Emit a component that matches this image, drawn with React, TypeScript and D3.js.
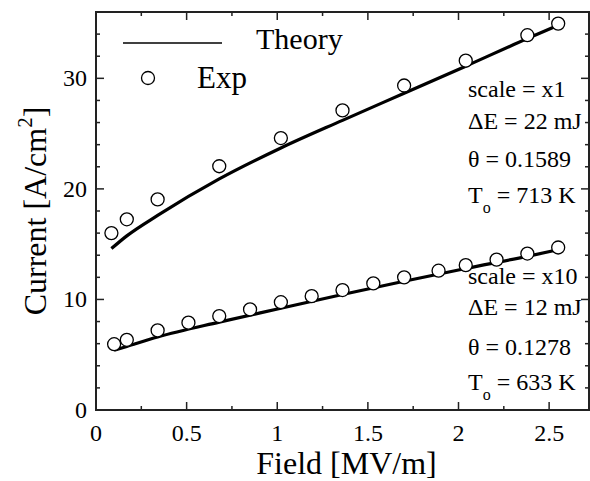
import React, { useEffect, useRef } from 'react';
import * as d3 from 'd3';

// field values [MV/m]
const expFieldHigh = [0.085, 0.17, 0.34, 0.68, 1.02, 1.36, 1.70, 2.04, 2.38, 2.55];
const expCurrentHigh = [16.0, 17.25, 19.05, 22.05, 24.6, 27.1, 29.35, 31.6, 33.9, 34.95];

const expFieldLow = [0.10, 0.17, 0.34, 0.51, 0.68, 0.85, 1.02, 1.19, 1.36, 1.53, 1.70, 1.89, 2.04, 2.21, 2.38, 2.55];
const expCurrentLow = [5.95, 6.35, 7.2, 7.9, 8.5, 9.1, 9.75, 10.3, 10.85, 11.45, 12.0, 12.6, 13.1, 13.6, 14.15, 14.7];

const theoryFieldHigh = [0.085, 0.17, 0.34, 0.68, 1.02, 1.36, 1.70, 2.04, 2.38, 2.55];
const theoryCurrentHigh = [14.6, 15.75, 17.6, 20.9, 23.7, 26.2, 28.65, 31.1, 33.6, 34.8];

const theoryFieldLow = [0.10, 0.17, 0.34, 0.68, 1.02, 1.36, 1.70, 2.04, 2.38, 2.55];
const theoryCurrentLow = [5.4, 5.75, 6.6, 7.95, 9.2, 10.45, 11.65, 12.8, 13.9, 14.5];

const xTicks = [0, 0.5, 1, 1.5, 2, 2.5];
const yTicks = [0, 10, 20, 30];

const notesHigh = ['scale = x1', 'ΔE = 22 mJ', 'θ = 0.1589', '713 K'];
const notesLow = ['scale = x10', 'ΔE = 12 mJ', 'θ = 0.1278', '633 K'];

function App() {
    const svgRef = useRef(null);

    useEffect(() => {
        const width = 590;
        const height = 481;
        const margin = { top: 12, right: 1, bottom: 71, left: 96 };
        const font = "'Liberation Serif', 'Times New Roman', serif";

        const svg = d3.select(svgRef.current)
            .attr("width", width)
            .attr("height", height);

        svg.selectAll("*").remove();

        const x = d3.scaleLinear()
            .domain([0, 2.72])
            .range([margin.left, width - margin.right]);

        const y = d3.scaleLinear()
            .domain([0, 36])
            .range([height - margin.bottom, margin.top]);

        const x0 = x.range()[0], x1 = x.range()[1];
        const y0 = y.range()[0], y1 = y.range()[1];

        // ticks, all pointing inwards, mirrored on top/right
        const ticks = svg.append("g").attr("stroke", "#222").attr("stroke-width", 1.5);
        const xMinor = d3.range(0, 2.72, 0.25);
        xMinor.forEach(v => {
            const len = xTicks.includes(v) ? 8 : 4;
            ticks.append("line").attr("x1", x(v)).attr("x2", x(v)).attr("y1", y0).attr("y2", y0 - len);
            ticks.append("line").attr("x1", x(v)).attr("x2", x(v)).attr("y1", y1).attr("y2", y1 + len);
        });
        const yMinor = d3.range(0, 37, 2);
        yMinor.forEach(v => {
            const len = yTicks.includes(v) ? 8 : 4;
            ticks.append("line").attr("x1", x0).attr("x2", x0 + len).attr("y1", y(v)).attr("y2", y(v));
            ticks.append("line").attr("x1", x1).attr("x2", x1 - len).attr("y1", y(v)).attr("y2", y(v));
        });

        // frame
        svg.append("rect")
            .attr("x", x0).attr("y", y1)
            .attr("width", x1 - x0).attr("height", y0 - y1)
            .attr("fill", "none")
            .attr("stroke", "#222")
            .attr("stroke-width", 2);

        // tick labels
        svg.append("g").selectAll("text")
            .data(xTicks)
            .join("text")
            .attr("x", d => x(d))
            .attr("y", y0 + 31)
            .attr("text-anchor", "middle")
            .attr("font-family", font)
            .attr("font-size", 24)
            .text(d => d3.format("~g")(d));

        svg.append("g").selectAll("text")
            .data(yTicks)
            .join("text")
            .attr("x", x0 - 9)
            .attr("y", d => y(d) + 8)
            .attr("text-anchor", "end")
            .attr("font-family", font)
            .attr("font-size", 24)
            .text(d => d);

        // axis titles
        svg.append("text")
            .attr("x", (x0 + x1) / 2 + 4)
            .attr("y", 474)
            .attr("text-anchor", "middle")
            .attr("font-family", font)
            .attr("font-size", 32)
            .text("Field [MV/m]");

        const yTitle = svg.append("text")
            .attr("transform", `translate(46,${(y0 + y1) / 2}) rotate(-90)`)
            .attr("text-anchor", "middle")
            .attr("font-family", font)
            .attr("font-size", 32);
        yTitle.append("tspan").text("Current [A/cm");
        yTitle.append("tspan").attr("font-size", 21).attr("dy", -14).text("2");
        yTitle.append("tspan").attr("dy", 14).text("]");

        // theory lines
        const line = d3.line()
            .x(d => x(d[0]))
            .y(d => y(d[1]))
            .curve(d3.curveMonotoneX);

        [[theoryFieldHigh, theoryCurrentHigh], [theoryFieldLow, theoryCurrentLow]].forEach(([fx, cy]) => {
            svg.append("path")
                .datum(fx.map((v, i) => [v, cy[i]]))
                .attr("fill", "none")
                .attr("stroke", "black")
                .attr("stroke-width", 3.2)
                .attr("d", line);
        });

        // experimental points
        [[expFieldHigh, expCurrentHigh], [expFieldLow, expCurrentLow]].forEach(([fx, cy]) => {
            svg.append("g").selectAll("circle")
                .data(fx.map((v, i) => [v, cy[i]]))
                .join("circle")
                .attr("cx", d => x(d[0]))
                .attr("cy", d => y(d[1]))
                .attr("r", 6.5)
                .attr("fill", "white")
                .attr("stroke", "black")
                .attr("stroke-width", 1.3);
        });

        // legend
        svg.append("line")
            .attr("x1", 123).attr("x2", 222)
            .attr("y1", 43).attr("y2", 43)
            .attr("stroke", "black").attr("stroke-width", 1.5);
        svg.append("text")
            .attr("x", 256).attr("y", 49)
            .attr("font-family", font).attr("font-size", 30)
            .text("Theory");
        svg.append("circle")
            .attr("cx", 148).attr("cy", 78).attr("r", 6.5)
            .attr("fill", "white").attr("stroke", "black").attr("stroke-width", 1.3);
        svg.append("text")
            .attr("x", 197).attr("y", 88)
            .attr("font-family", font).attr("font-size", 31)
            .text("Exp");

        // fit parameter notes
        const drawNotes = (notes, baselines) => {
            notes.forEach((t, i) => {
                const txt = svg.append("text")
                    .attr("x", 468).attr("y", baselines[i])
                    .attr("font-family", font).attr("font-size", 24);
                if (i === 3) {
                    txt.append("tspan").text("T");
                    txt.append("tspan").attr("font-size", 16).attr("dy", 10).text("o");
                    txt.append("tspan").attr("dy", -10).text(" = " + t);
                } else {
                    txt.text(t);
                }
            });
        };
        drawNotes(notesHigh, [97, 129, 167, 203]);
        drawNotes(notesLow, [284, 315, 355, 390]);
    }, []);

    return (
        <div style={{ position: 'absolute', left: 0, top: 0 }}>
            <svg ref={svgRef}></svg>
        </div>
    );
}

export default App;
